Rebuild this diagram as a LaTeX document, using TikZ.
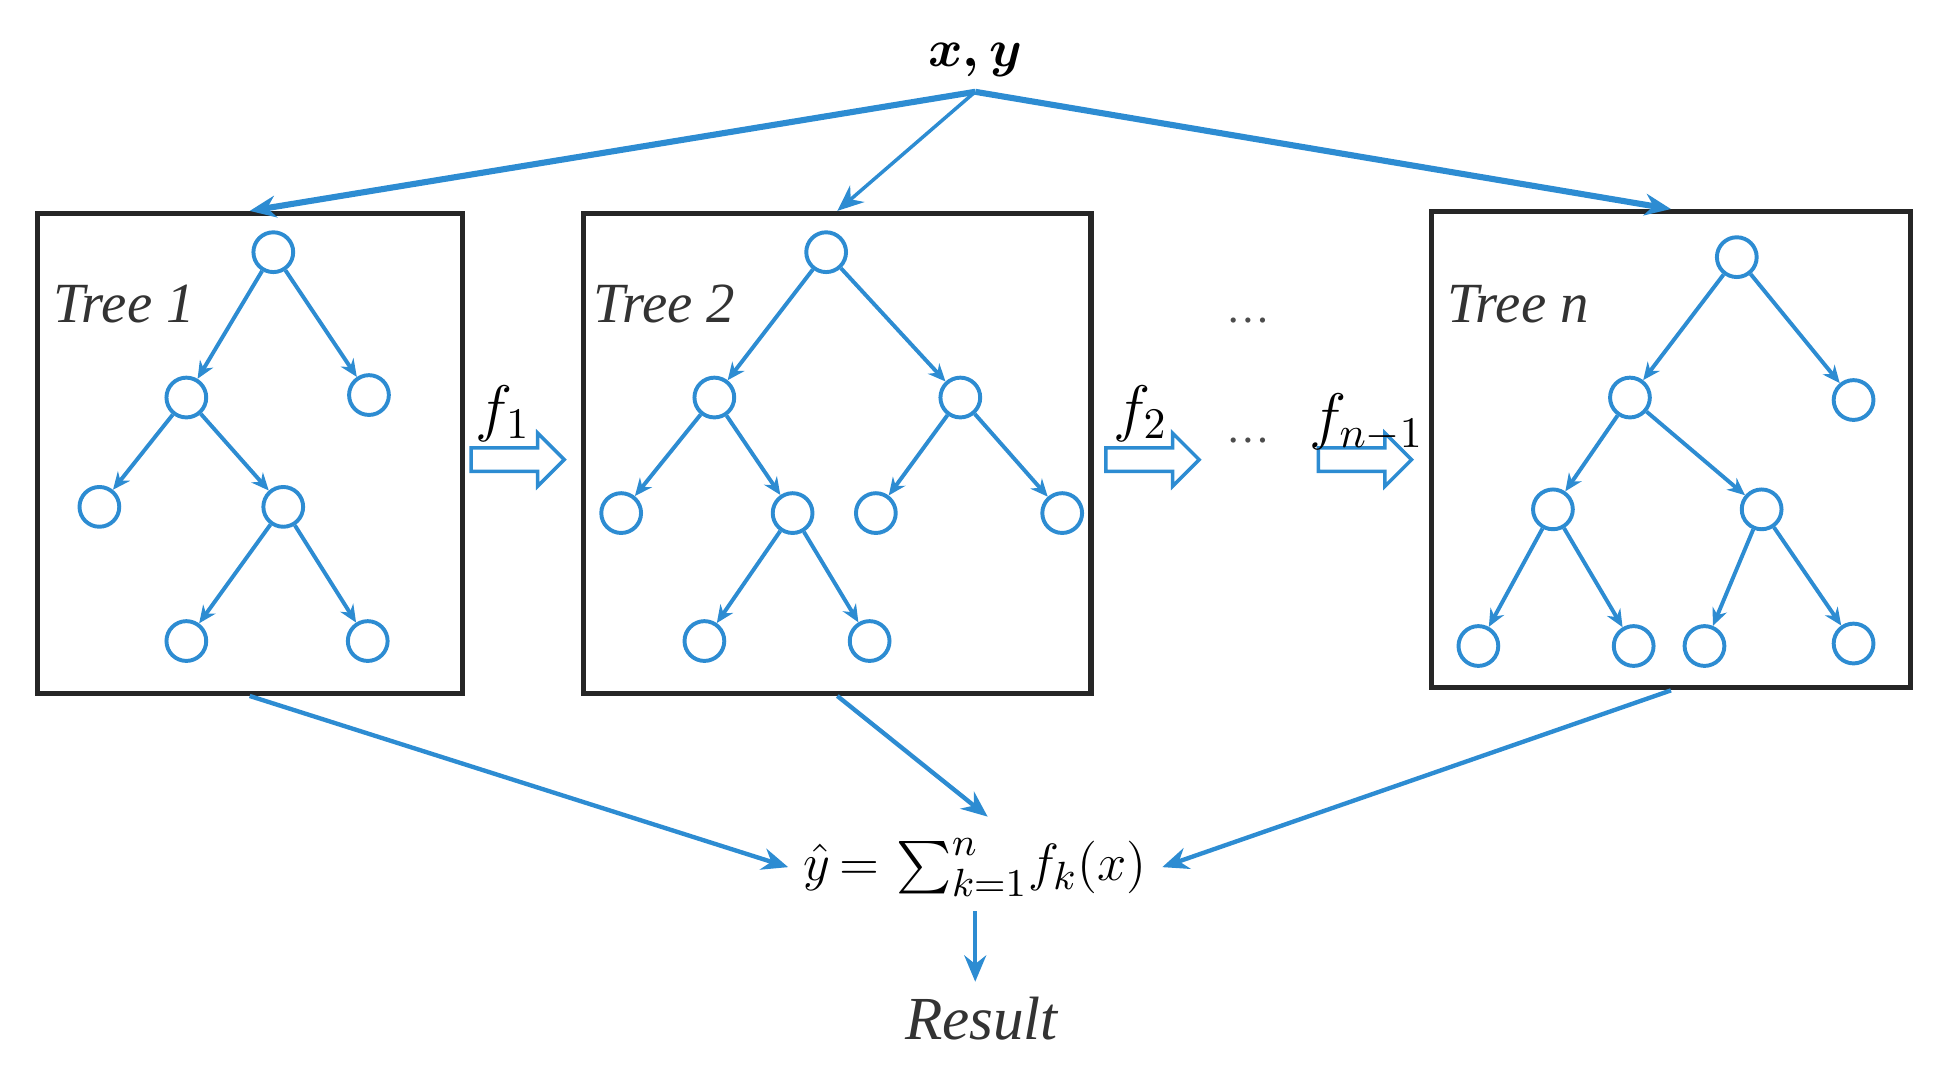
\documentclass[tikz,border=0pt]{standalone}
\usepackage{amsmath}
\usepackage{fontspec}
\setmainfont{Liberation Serif}
\usepackage{xcolor}
\usepackage{tikz}
\usetikzlibrary{arrows.meta, shapes.arrows, positioning}
\definecolor{treeblue}{RGB}{45,140,210}

\begin{document}
\begin{tikzpicture}[x=0.01cm, y=-0.01cm,
  treebox/.style={draw=black!85, line width=1.2pt, inner sep=0pt},
  leaf/.style={circle, draw=treeblue, line width=0.9pt, minimum size=0.32cm, inner sep=0pt},
  branch/.style={treeblue, line width=0.9pt, -{Stealth[length=4pt, width=3.5pt]}},
  feed/.style={treeblue, -{Stealth[length=6pt, width=5pt]}},
  pass/.style={single arrow, draw=treeblue, fill=white, line width=0.8pt, minimum height=0.75cm,
    inner xsep=0pt, inner ysep=0.08cm, single arrow head extend=0.12cm},
  treelabel/.style={font=\itshape\fontsize{13}{15}\selectfont, text=black!80}
]
\useasboundingbox (0,0) rectangle (1568,864);

% input
\node[font=\fontsize{13}{15}\selectfont] (xy) at (785,48) {$\boldsymbol{x{,}\,y}$};

% boxes
\node[treebox, minimum width=3.42cm, minimum height=3.86cm] (box1) at (201,365) {};
\node[treebox, minimum width=4.08cm, minimum height=3.86cm] (box2) at (674,365) {};
\node[treebox, minimum width=3.85cm, minimum height=3.83cm] (boxn) at (1345,362) {};

\node[treelabel] (lab1) at (100,245) {Tree 1};
\node[treelabel] (lab2) at (535,245) {Tree 2};
\node[treelabel] (labn) at (1222,245) {Tree \textit{n}};

% tree 1
\node[leaf] (a0) at (220,203) {};
\node[leaf] (a1) at (150,320) {};
\node[leaf] (a2) at (297,318) {};
\node[leaf] (a3) at (80,408) {};
\node[leaf] (a4) at (228,408) {};
\node[leaf] (a5) at (150,516) {};
\node[leaf] (a6) at (296,516) {};
\draw[branch] (a0) -- (a1);
\draw[branch] (a0) -- (a2);
\draw[branch] (a1) -- (a3);
\draw[branch] (a1) -- (a4);
\draw[branch] (a4) -- (a5);
\draw[branch] (a4) -- (a6);

% tree 2
\node[leaf] (b0) at (665,203) {};
\node[leaf] (b1) at (575,320) {};
\node[leaf] (b2) at (773,320) {};
\node[leaf] (b3) at (500,413) {};
\node[leaf] (b4) at (638,413) {};
\node[leaf] (b5) at (705,413) {};
\node[leaf] (b6) at (855,413) {};
\node[leaf] (b7) at (567,516) {};
\node[leaf] (b8) at (700,516) {};
\draw[branch] (b0) -- (b1);
\draw[branch] (b0) -- (b2);
\draw[branch] (b1) -- (b3);
\draw[branch] (b1) -- (b4);
\draw[branch] (b2) -- (b5);
\draw[branch] (b2) -- (b6);
\draw[branch] (b4) -- (b7);
\draw[branch] (b4) -- (b8);

% tree n
\node[leaf] (c0) at (1398,207) {};
\node[leaf] (c1) at (1312,320) {};
\node[leaf] (c2) at (1492,322) {};
\node[leaf] (c3) at (1250,410) {};
\node[leaf] (c4) at (1418,410) {};
\node[leaf] (c5) at (1190,520) {};
\node[leaf] (c6) at (1315,520) {};
\node[leaf] (c7) at (1372,520) {};
\node[leaf] (c8) at (1492,518) {};
\draw[branch] (c0) -- (c1);
\draw[branch] (c0) -- (c2);
\draw[branch] (c1) -- (c3);
\draw[branch] (c1) -- (c4);
\draw[branch] (c3) -- (c5);
\draw[branch] (c3) -- (c6);
\draw[branch] (c4) -- (c7);
\draw[branch] (c4) -- (c8);

% residual passing
\node[pass] (arr1) at (412,370) {};
\node[pass] (arr2) at (923,370) {};
\node[pass] (arr3) at (1094,370) {};
\node[font=\fontsize{14}{16}\selectfont] (f1) at (405,333) {$f_1$};
\node[font=\fontsize{14}{16}\selectfont] (f2) at (918,333) {$f_2$};
\node[font=\fontsize{14}{16}\selectfont] (f3) at (1100,340) {$f_{n-1}$};
\node[text=black!70] (dots1) at (1005,258) {\dots};
\node[text=black!70] (dots2) at (1005,355) {\dots};

% output
\node[font=\fontsize{12.5}{15}\selectfont] (sum) at (785,698) {$\hat{y}\,{=}\,\sum_{k=1}^{n}\! f_k(x)$};
\node[font=\itshape\fontsize{14}{16}\selectfont, text=black!80] (result) at (790,820) {Result};

\draw[feed, line width=1.4pt] (xy.south) -- (box1.north);
\draw[feed, line width=0.8pt] (xy.south) -- (box2.north);
\draw[feed, line width=1.4pt] (xy.south) -- (boxn.north);
\draw[feed, line width=1pt] (box1.south) -- (sum.west);
\draw[feed, line width=1pt] (box2.south) -- ([xshift=0.1cm, yshift=0.05cm]sum.north);
\draw[feed, line width=1pt] (boxn.south) -- (sum.east);
\draw[feed, line width=1pt] (sum.south) -- (sum.south |- result.north);
\end{tikzpicture}
\end{document}
